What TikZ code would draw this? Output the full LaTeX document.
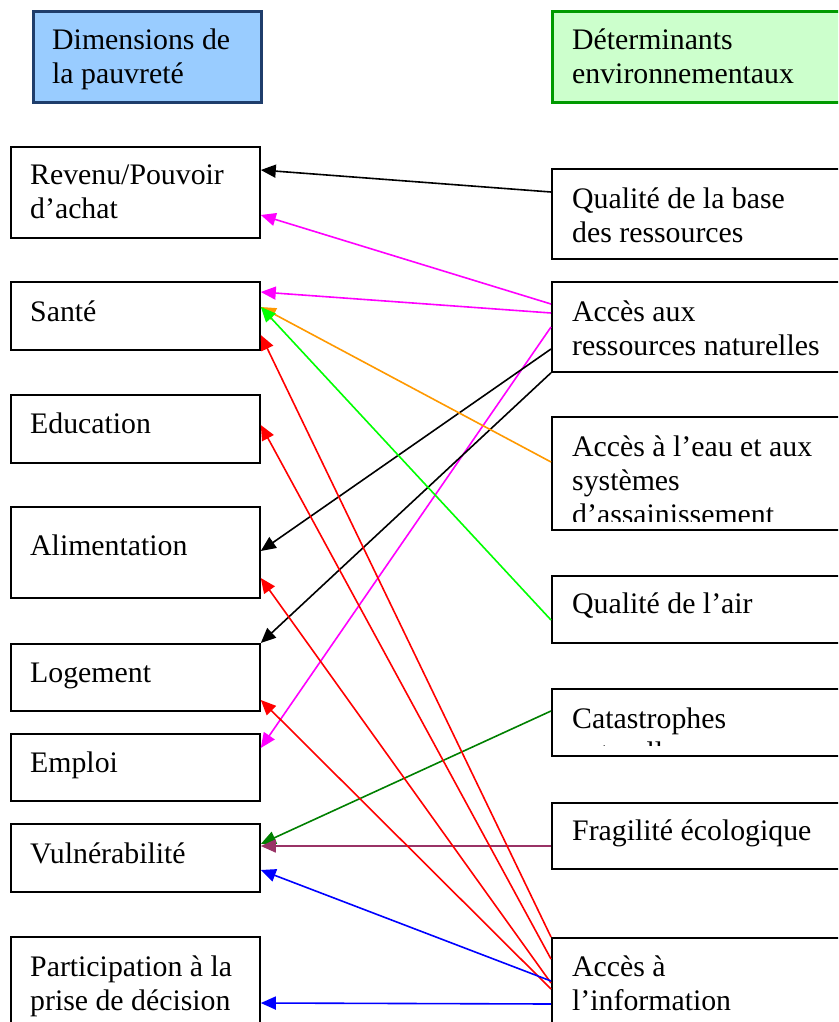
\documentclass[tikz,border=0pt]{standalone}
\usepackage{fontspec}
\setmainfont{Liberation Serif}
\usetikzlibrary{arrows.meta}
\definecolor{hdrblue}{HTML}{99CCFF}
\definecolor{hdrblueline}{HTML}{1F3D6B}
\definecolor{hdrgreen}{HTML}{CCFFCC}
\definecolor{hdrgreenline}{HTML}{009900}
\definecolor{cmag}{HTML}{FF00FF}
\definecolor{corange}{HTML}{FF9900}
\definecolor{clime}{HTML}{00FF00}
\definecolor{cdgreen}{HTML}{008000}
\definecolor{cpurple}{HTML}{993366}
\definecolor{cred}{HTML}{FF0000}
\definecolor{cblue}{HTML}{0000FF}
\tikzset{
  box/.style={draw=black, line width=1.8pt, rectangle, inner sep=0pt, anchor=north west, fill=white},
  hdrL/.style={draw=hdrblueline, fill=hdrblue, line width=3.2pt, rectangle, inner sep=0pt, anchor=north west},
  hdrR/.style={draw=hdrgreenline, fill=hdrgreen, line width=3.2pt, rectangle, inner sep=0pt, anchor=north west},
  txt/.style={inner sep=0pt, anchor=base west, align=left, font=\fontsize{29.8}{34}\selectfont},
  conn/.style={line width=1.6pt, -{Triangle[length=15pt,width=13pt]}},
}
\begin{document}
\begin{tikzpicture}[x=1pt,y=-1pt]
\useasboundingbox (0,0) rectangle (838,1022);
\clip (0,0) rectangle (838,1022);
\fill[white] (0,0) rectangle (838,1022);

% headers
\node[hdrL, minimum width=228pt, minimum height=91pt] (hl) at (32,10) {};
\node[txt] (hlt) at (52,84) {Dimensions de\\la pauvreté};
\node[hdrR, minimum width=300pt, minimum height=91pt] (hr) at (551,10) {};
\node[txt] (hrt) at (572,84) {Déterminants\\environnementaux};

% left boxes
\node[box, minimum width=249pt, minimum height=91pt] (rev) at (10,146) {};
\node[txt] (trev) at (30,218) {Revenu/Pouvoir\\d’achat};
\node[box, minimum width=249pt, minimum height=68pt] (san) at (10,281) {};
\node[txt] (tsan) at (30,321) {Santé};
\node[box, minimum width=249pt, minimum height=68pt] (edu) at (10,394) {};
\node[txt] (tedu) at (30,433) {Education};
\node[box, minimum width=249pt, minimum height=91pt] (ali) at (10,506) {};
\node[txt] (tali) at (30,555) {Alimentation};
\node[box, minimum width=249pt, minimum height=67pt] (log) at (10,643) {};
\node[txt] (tlog) at (30,682) {Logement};
\node[box, minimum width=249pt, minimum height=67pt] (emp) at (10,733) {};
\node[txt] (temp) at (30,772) {Emploi};
\node[box, minimum width=249pt, minimum height=68pt] (vul) at (10,823) {};
\node[txt] (tvul) at (30,863) {Vulnérabilité};
\node[box, minimum width=249pt, minimum height=100pt] (par) at (10,936) {};
\node[txt] (tpar) at (30,1010) {Participation à la\\prise de décision};

% right boxes
\node[box, minimum width=300pt, minimum height=90pt] (qb) at (551,168) {};
\node[txt] (tqb) at (572,242) {Qualité de la base\\des ressources};
\node[box, minimum width=300pt, minimum height=90pt] (ar) at (551,281) {};
\node[txt] (tar) at (572,355) {Accès aux\\ressources naturelles};
\node[box, minimum width=300pt, minimum height=113pt] (eau) at (551,416) {};
\begin{scope}
\clip (551,416) rectangle (850,521);
\node[txt] (teau) at (572,524) {Accès à l’eau et aux\\systèmes\\d’assainissement};
\end{scope}
\node[box, minimum width=300pt, minimum height=67pt] (air) at (551,575) {};
\node[txt] (tair) at (572,613) {Qualité de l’air};
\node[box, minimum width=300pt, minimum height=67pt] (cat) at (551,688) {};
\begin{scope}
\clip (551,688) rectangle (850,745);
\node[txt] (tcat) at (572,762) {Catastrophes\\naturelles};
\end{scope}
\node[box, minimum width=300pt, minimum height=66pt] (fra) at (551,802) {};
\node[txt] (tfra) at (572,840) {Fragilité écologique};
\node[box, minimum width=300pt, minimum height=100pt] (inf) at (551,937) {};
\node[txt] (tinf) at (572,1010) {Accès à\\l’information};

% connectors
\draw[conn, black] ([yshift=-24pt]qb.north west) -- ([yshift=-24pt]rev.north east);
\draw[conn, cmag] ([yshift=-23pt]ar.north west) -- ([yshift=-69pt]rev.north east);
\draw[conn, cmag] ([yshift=-32pt]ar.north west) -- ([yshift=-11pt]san.north east);
\draw[conn, cmag] ([yshift=-46pt]ar.north west) -- ([yshift=-15pt]emp.north east);
\draw[conn, black] ([yshift=-68pt]ar.north west) -- ([yshift=-45pt]ali.north east);
\draw[conn, black] (ar.south west) -- (log.north east);
\draw[conn, corange] ([yshift=-46pt]eau.north west) -- ([yshift=-26pt]san.north east);
\draw[conn, clime] ([yshift=-45pt]air.north west) -- ([yshift=-26pt]san.north east);
\draw[conn, cdgreen] ([yshift=-23pt]cat.north west) -- ([yshift=-21pt]vul.north east);
\draw[conn, cpurple] ([yshift=-44pt]fra.north west) -- ([yshift=-23pt]vul.north east);
\draw[conn, cred] (inf.north west) -- ([yshift=-54pt]san.north east);
\draw[conn, cred] ([yshift=-22pt]inf.north west) -- ([yshift=-31pt]edu.north east);
\draw[conn, cred] ([yshift=-46pt]inf.north west) -- ([yshift=-72pt]ali.north east);
\draw[conn, cred] ([yshift=-52pt]inf.north west) -- ([yshift=-57pt]log.north east);
\draw[conn, cblue] ([yshift=-44pt]inf.north west) -- ([yshift=-47pt]vul.north east);
\draw[conn, cblue] ([yshift=-67pt]inf.north west) -- ([yshift=-67pt]par.north east);
\end{tikzpicture}
\end{document}
